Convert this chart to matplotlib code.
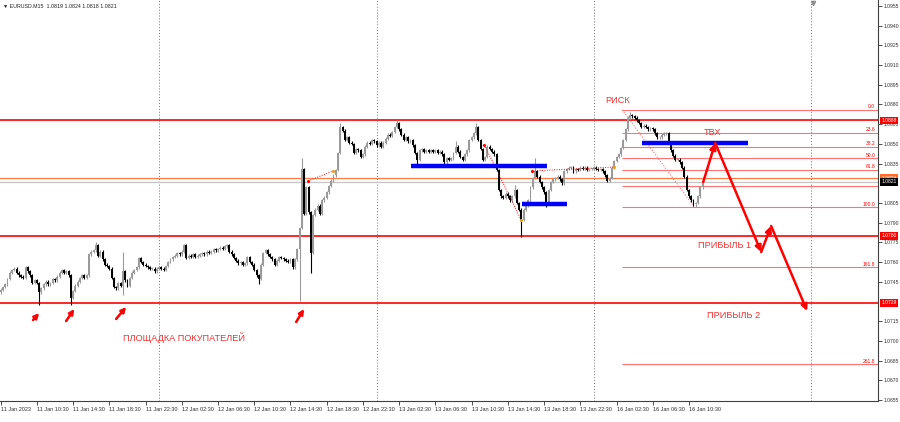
import numpy as np
import matplotlib.pyplot as plt

plt.rcParams['font.family'] = ['Liberation Sans', 'DejaVu Sans']

# EURUSD M15, closes in pips above 1.0700
open_first = 37
closes_pips = [
    39, 41, 43, 47, 52, 54, 55, 52, 50, 49,
    48, 56, 53, 50, 44, 46, 44, 37, 40, 43,
    45, 43, 44, 47, 46, 49, 52, 54, 52, 53,
    50, 33, 38, 42, 45, 48, 50, 48, 50, 66,
    68, 69, 73, 65, 68, 62, 58, 57, 55, 48,
    41, 40, 44, 42, 53, 46, 42, 48, 52, 54,
    56, 63, 60, 58, 57, 56, 55, 55, 53, 55,
    56, 55, 54, 57, 60, 62, 64, 65, 67, 66,
    68, 73, 63, 65, 64, 66, 64, 65, 66, 67,
    66, 68, 67, 68, 70, 69, 70, 71, 70, 72,
    73, 68, 66, 63, 61, 59, 60, 58, 59, 64,
    60, 58, 54, 50, 47, 58, 67, 69, 66, 64,
    62, 58, 61, 64, 63, 62, 61, 60, 62, 56,
    62, 70, 86, 131, 97, 117, 98, 67, 96, 100,
    103, 97, 107, 109, 113, 118, 122, 126, 130, 143,
    163, 160, 153, 155, 151, 150, 143, 146, 145, 140,
    142, 148, 151, 150, 153, 152, 149, 151, 148, 151,
    154, 157, 156, 159, 163, 166, 161, 157, 153, 155,
    152, 153, 149, 143, 138, 145, 146, 144, 145, 144,
    145, 144, 145, 143, 144, 142, 136, 139, 138, 139,
    143, 148, 144, 140, 138, 142, 145, 153, 155, 158,
    163, 153, 146, 138, 140, 148, 146, 144, 142, 130,
    115, 110, 109, 112, 110, 107, 110, 115, 105, 100,
    92, 100, 103, 107, 117, 124, 129, 125, 121, 117,
    113, 105, 115, 121, 123, 124, 125, 123, 120, 129,
    131, 132, 132, 129, 131, 130, 132, 131, 132, 130,
    131, 131, 132, 131, 130, 131, 129, 126, 122, 124,
    132, 137, 140, 142, 147, 153, 161, 170, 172, 171,
    170, 168, 166, 163, 164, 163, 161, 162, 161, 158,
    155, 155, 157, 158, 158, 151, 145, 141, 138, 138,
    136, 132, 125, 115, 110, 107, 104, 105, 110, 117,
    121,
]
# long wicks, bar index -> pips
spike_highs = {42: 75, 54: 68, 133: 139, 150: 166, 175: 168, 201: 152,
               210: 166, 227: 119, 236: 139, 278: 174}
spike_lows = {17: 27, 31: 27, 54: 35, 114: 43, 132: 30, 137: 52,
              184: 135, 230: 79, 241: 102, 307: 102}

time_ticks = list(range(0, 305, 16))
time_labels = ['11 Jan 2023', '11 Jan 10:30', '11 Jan 14:30', '11 Jan 18:30',
               '11 Jan 22:30', '12 Jan 02:30', '12 Jan 06:30', '12 Jan 10:30',
               '12 Jan 14:30', '12 Jan 18:30', '12 Jan 22:30', '13 Jan 02:30',
               '13 Jan 06:30', '13 Jan 10:30', '13 Jan 14:30', '13 Jan 18:30',
               '13 Jan 22:30', '16 Jan 02:30', '16 Jan 06:30', '16 Jan 10:30']
day_breaks = [70, 166, 262, 358]

# scale labels visible on the right (1.0820 and 1.0730 sit under the price boxes)
price_ticks = [1.0955, 1.0940, 1.0925, 1.0910, 1.0895, 1.0880, 1.0865, 1.0850,
               1.0835, 1.0805, 1.0790, 1.0775, 1.0760, 1.0745,
               1.0715, 1.0700, 1.0685, 1.0670, 1.0655]

red_levels = [1.0868, 1.0780, 1.0729]
ask_level = 1.0824
bid_level = 1.0821

fib_high, fib_low = 1.0876, 1.0802
fib_start = 274.5
fib_ratios = [0.0, 23.6, 38.2, 50.0, 61.8, 78.6, 100.0, 161.8, 261.8]
fib_shown = [0.0, 23.6, 38.2, 50.0, 61.8, 100.0, 161.8, 261.8]

# blue zones: (start bar, end bar, price)
blue_zones = [(181.3, 241.4, 1.0833), (230.3, 250.2, 1.0804), (283.3, 330.2, 1.0851)]

# zigzag dotted segments (bar, price)
zigzag = [[(135.8, 1.08218), (146.9, 1.08294)],
          [(213.6, 1.08492), (229.9, 1.07921)],
          [(234.8, 1.08294), (271.0, 1.08324)]]

# forecast path (bar, price)
path_x = [310.3, 315.6, 335.9, 340.3, 356.2]
path_y = [1.08210, 1.08507, 1.07677, 1.07875, 1.07228]

# small buyer arrows: tail -> head
buy_arrows = [((14.3, 1.07159), (17.0, 1.07212)),
              ((28.9, 1.07151), (32.5, 1.07243)),
              ((51.0, 1.07167), (55.4, 1.07258)),
              ((130.5, 1.07144), (134.0, 1.07243))]

texts = [('ПЛОЩАДКА ПОКУПАТЕЛЕЙ', 54.1, 1.07022),
         ('РИСК', 267.0, 1.08834),
         ('ТВХ', 310.7, 1.08583),
         ('ПРИБЫЛЬ 1', 308.0, 1.07730),
         ('ПРИБЫЛЬ 2', 312.0, 1.07190)]

RED = '#ff0000'
TXT_RED = '#f03232'
FIB = '#ff7373'

fig = plt.figure(figsize=(9, 4.22), dpi=100)
ax = fig.add_axes([0, 21 / 422, 878 / 900, 401 / 422])
ax.set_xlim(-0.3, 387.5)
ax.set_ylim(1.065423, 1.095957)

# candles
closes = 1.07 + np.array(closes_pips) / 10000
opens = np.r_[1.07 + open_first / 10000, closes[:-1]]
highs = np.maximum(opens, closes) + 0.0001
lows = np.minimum(opens, closes) - 0.0001
for i, v in spike_highs.items():
    highs[i] = 1.07 + v / 10000
for i, v in spike_lows.items():
    lows[i] = 1.07 + v / 10000
idx = np.arange(len(closes))
bull = closes >= opens
colors = np.where(bull, '#9a9a9a', '#000000')
ax.vlines(idx, lows, highs, colors=colors, lw=0.8, zorder=3)
body_h = np.maximum(np.abs(closes - opens), 0.00004)
ax.bar(idx, body_h, bottom=np.minimum(opens, closes), width=0.85,
       color=colors, linewidth=0, zorder=4)

# separators
for b in day_breaks:
    ax.axvline(b, color='#707070', ls=(0, (1, 2)), lw=0.7, zorder=1)

# horizontal levels
for lv in red_levels:
    ax.axhline(lv, color=RED, lw=1.2, zorder=2)
ax.axhline(ask_level, color='#ff7b4a', lw=0.9, zorder=2)
ax.axhline(bid_level, color='#c4c4c4', lw=0.9, zorder=2)

# fibonacci
rng = fib_high - fib_low
for r in fib_ratios:
    lv = fib_high - r / 100 * rng
    ax.hlines(lv, fib_start, 387.5, color=FIB, lw=0.8, zorder=2)
    if r in fib_shown:
        ax.text(386.3, lv + 0.00003, f'{r:.1f}', ha='right', va='bottom',
                fontsize=3.6, color=RED, zorder=6)
ax.plot([fib_start, 306.3], [fib_high, fib_low], color=FIB, ls=(0, (1, 1.5)),
        lw=0.8, zorder=2)

for seg in zigzag:
    xs, ys = zip(*seg)
    ax.plot(xs, ys, color=RED, ls=(0, (1, 1.5)), lw=0.7, zorder=5)
    ax.plot(xs[0], ys[0], marker='.', color=RED, ms=2.5, zorder=5)
    ax.plot(xs[1], ys[1], marker='.', color='#e8a020', ms=2.5, zorder=5)

# blue zones
for x0, x1, p in blue_zones:
    ax.hlines(p, x0, x1, color='#0000ff', lw=3.2, zorder=5)

# forecast arrows
for k in range(len(path_x) - 1):
    ax.annotate('', xy=(path_x[k + 1], path_y[k + 1]),
                xytext=(path_x[k], path_y[k]),
                arrowprops=dict(arrowstyle='-|>', color=RED, lw=1.8,
                                mutation_scale=9, shrinkA=0, shrinkB=0),
                zorder=6)
for tail, head in buy_arrows:
    ax.annotate('', xy=head, xytext=tail,
                arrowprops=dict(arrowstyle='-|>', color=RED, lw=1.8,
                                mutation_scale=7, shrinkA=0, shrinkB=0),
                zorder=6)

for s, x, y in texts:
    ax.text(x, y, s, color=TXT_RED, fontsize=6.6, ha='left', va='center', zorder=6)

# axes styling
for side in ['left', 'top']:
    ax.spines[side].set_visible(False)
for side in ['right', 'bottom']:
    ax.spines[side].set_color('#404040')
    ax.spines[side].set_linewidth(0.8)
ax.yaxis.tick_right()
ax.set_yticks(price_ticks)
ax.set_yticklabels([f'{p:.4f}' for p in price_ticks])
ax.tick_params(axis='y', direction='out', length=3, width=0.6, pad=1,
               labelsize=3.6, colors='#303030')
ax.set_xticks(time_ticks)
ax.set_xticklabels(time_labels, ha='left')
ax.tick_params(axis='x', direction='out', length=3, width=0.6, pad=1.5,
               labelsize=4, colors='#303030')

# price boxes on the right scale
tr = ax.get_yaxis_transform()
boxes = [(1.0868, RED, 'white'), (1.0780, RED, 'white'), (1.0729, RED, 'white'),
         (ask_level, '#ff6a2a', 'white'), (bid_level, '#000000', 'white')]
for p, fc, tc in boxes:
    ax.text(1.004, p, f'{p:.4f}', transform=tr, ha='left', va='center',
            fontsize=3.6, color=tc, clip_on=False, zorder=10,
            bbox=dict(boxstyle='square,pad=0.25', fc=fc, ec='none'))

ax.plot(359, 1.0957, marker='v', color='#909090', ms=3, clip_on=False, zorder=6)

fig.text(0.003, 0.985, '▼ EURUSD.M15  1.0819 1.0824 1.0818 1.0821',
         fontsize=3.8, color='#202020', ha='left', va='center')

fig.savefig('out.png', dpi=100)
